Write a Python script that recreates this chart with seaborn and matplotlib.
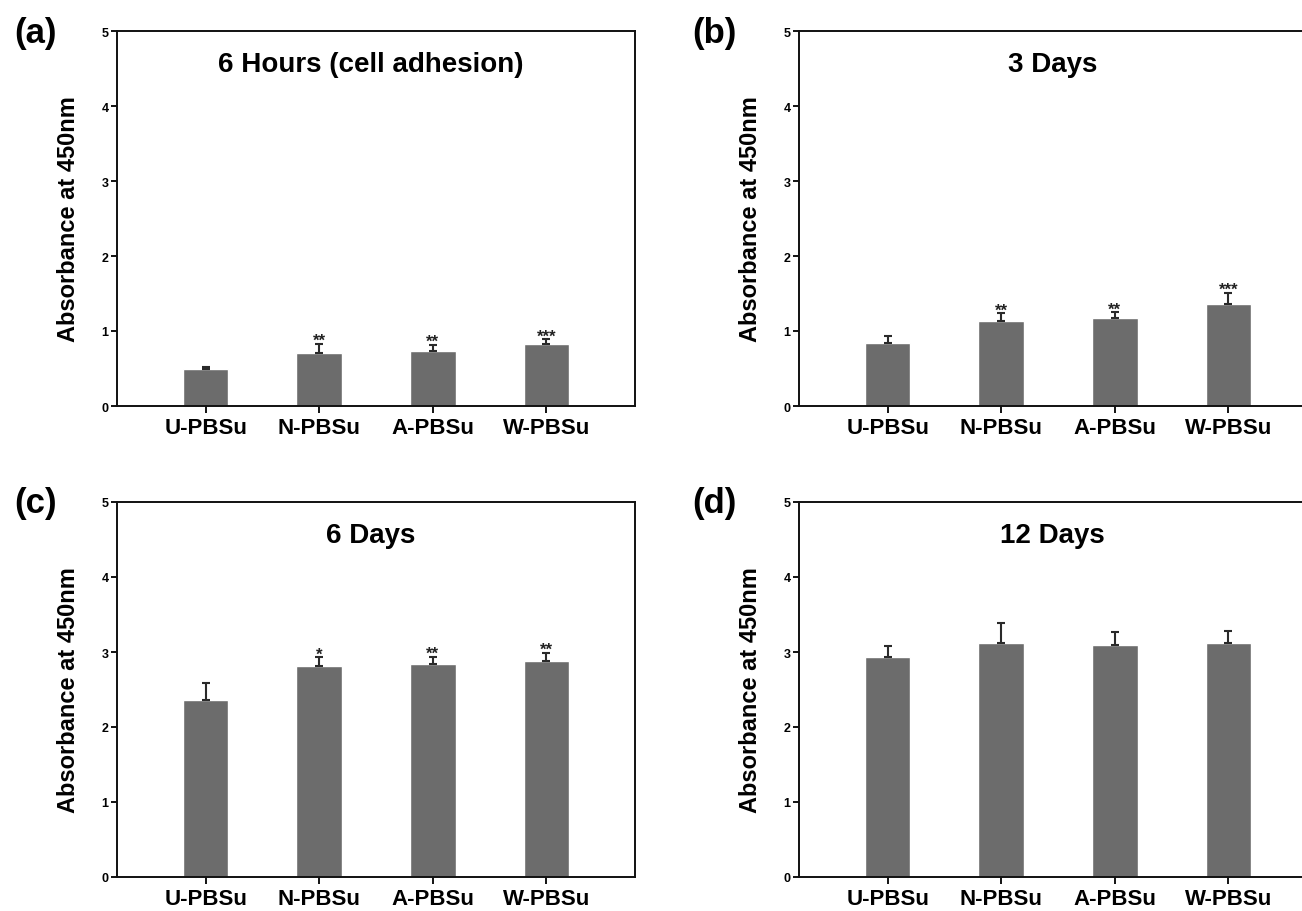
import matplotlib
matplotlib.use("Agg")
import matplotlib.pyplot as plt
import seaborn as sns
import numpy as np
import pandas as pd

# ---- data ----
categories = ["U-PBSu", "N-PBSu", "A-PBSu", "W-PBSu"]
panel_letters = ["(a)", "(b)", "(c)", "(d)"]
titles = ["6 Hours (cell adhesion)", "3 Days", "6 Days", "12 Days"]

means_6h = [0.49, 0.71, 0.74, 0.83]
err_6h = [0.03, 0.12, 0.08, 0.06]
stars_6h = ["", "**", "**", "***"]

means_3d = [0.84, 1.14, 1.18, 1.36]
err_3d = [0.10, 0.10, 0.07, 0.15]
stars_3d = ["", "**", "**", "***"]

means_6d = [2.36, 2.81, 2.84, 2.88]
err_6d = [0.23, 0.12, 0.10, 0.11]
stars_6d = ["", "*", "**", "**"]

means_12d = [2.93, 3.12, 3.10, 3.12]
err_12d = [0.15, 0.27, 0.17, 0.16]
stars_12d = ["", "", "", ""]

yticks = [0, 1, 2, 3, 4, 5]
ylabel = "Absorbance at 450nm"

panels = [
    (means_6h, err_6h, stars_6h),
    (means_3d, err_3d, stars_3d),
    (means_6d, err_6d, stars_6d),
    (means_12d, err_12d, stars_12d),
]

# ---- style ----
sns.set_style("ticks")
plt.rcParams["font.family"] = ["Liberation Sans", "DejaVu Sans"]
plt.rcParams["font.weight"] = "bold"
plt.rcParams["text.color"] = "black"
plt.rcParams["axes.labelcolor"] = "black"
plt.rcParams["xtick.color"] = "black"
plt.rcParams["ytick.color"] = "black"

BAR_COLOR = "#6c6c6c"
ERR_COLOR = "#2a2a2a"

fig = plt.figure(figsize=(13.02, 9.12), dpi=100)

W, H = 1302.0, 912.0
ax_w = 518 / W
ax_h = 375 / H
positions = [
    (117 / W, (H - 407) / H),
    (799 / W, (H - 407) / H),
    (117 / W, (H - 878) / H),
    (799 / W, (H - 878) / H),
]
label_pos = [(36 / W, 1 - 33 / H), (714 / W, 1 - 33 / H),
             (36 / W, 1 - 504 / H), (714 / W, 1 - 504 / H)]

for k, ((means, errs, stars), (l, b)) in enumerate(zip(panels, positions)):
    ax = fig.add_axes([l, b, ax_w, ax_h])
    df = pd.DataFrame({"cat": categories, "val": means})
    sns.barplot(data=df, x="cat", y="val", color=BAR_COLOR, width=0.4,
                errorbar=None, saturation=1, ax=ax, zorder=2)
    xs = np.arange(len(categories))
    ax.errorbar(xs, means, yerr=[np.zeros(len(errs)), errs], fmt="none",
                ecolor=ERR_COLOR, elinewidth=1.5, capsize=3, capthick=1.5,
                zorder=3)
    for x, m, e, s in zip(xs, means, errs, stars):
        if s:
            ax.annotate(s, (x, m + e), xytext=(0, -1), textcoords="offset points",
                        ha="center", va="baseline", fontsize=12,
                        fontweight="bold", color="#222222")
    ax.set_xlim(-0.78, 3.78)
    ax.set_ylim(0, 5)
    ax.set_yticks(yticks)
    ax.set_yticklabels([str(t) for t in yticks], fontsize=9, fontweight="bold")
    ax.set_xticks(xs)
    ax.set_xticklabels(categories, fontsize=16, fontweight="bold")
    ax.set_xlabel("")
    ax.set_ylabel(ylabel, fontsize=17, fontweight="bold")
    ax.yaxis.set_label_coords(-0.072, 0.5)
    ax.tick_params(axis="y", direction="out", length=4, width=1.3, pad=2)
    ax.tick_params(axis="x", direction="out", length=5, width=1.3, pad=3)
    for sp in ax.spines.values():
        sp.set_visible(True)
        sp.set_linewidth(1.4)
        sp.set_color("#111111")
    ax.text(0.49, 4.56, titles[k], transform=ax.get_yaxis_transform(),
            ha="center", va="center", fontsize=20, fontweight="bold")
    fig.text(label_pos[k][0], label_pos[k][1], panel_letters[k], ha="center",
             va="center", fontsize=25, fontweight="bold")

fig.savefig("out.png", dpi=100, facecolor="white")
